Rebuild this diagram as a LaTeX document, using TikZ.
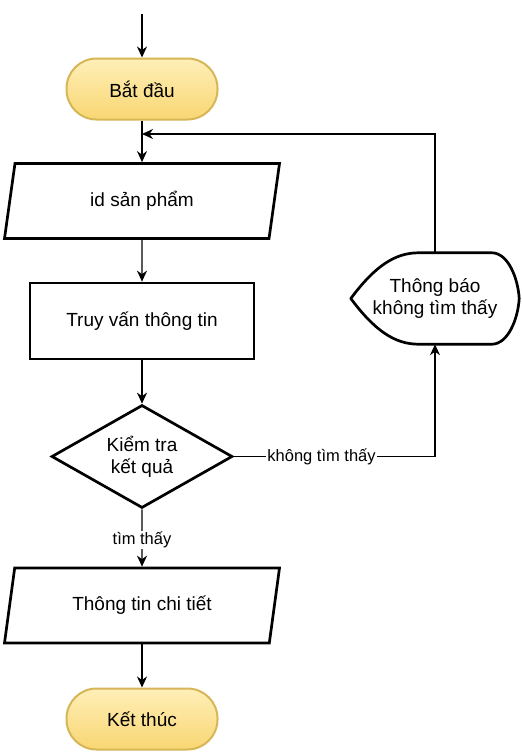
\documentclass[tikz,border=0pt]{standalone}
\usepackage{fontspec}
\setmainfont{Liberation Sans}
\usetikzlibrary{shapes.geometric,arrows.meta,calc}
\definecolor{ovaltop}{HTML}{FFEFB8}
\definecolor{ovalbottom}{HTML}{F8D672}
\definecolor{ovaldraw}{HTML}{D6B656}
\tikzset{
  mainfont/.style={font=\fontsize{19}{22}\selectfont},
  oval/.style={rectangle, rounded corners=30pt, draw=ovaldraw, top color=ovaltop, bottom color=ovalbottom, line width=2pt, minimum width=151pt, minimum height=61pt, mainfont},
  iobox/.style={trapezium, trapezium left angle=68, trapezium right angle=112, trapezium stretches body, draw, line width=2.7pt, minimum width=275pt, minimum height=75pt, mainfont},
  procbox/.style={rectangle, draw, line width=2.7pt, minimum width=224pt, minimum height=76pt, mainfont},
  decision/.style={diamond, draw, line width=2.7pt, inner sep=0pt, aspect=1.76, minimum width=181pt, minimum height=103pt, align=center, mainfont},
  arr/.style={line width=1.4pt, -{Stealth[length=11pt,width=10pt,inset=3.5pt]}},
  edgelabel/.style={fill=white, inner sep=1pt, font=\fontsize{16.5}{18}\selectfont}
}
\begin{document}
\begin{tikzpicture}[x=1pt,y=-1pt]
\useasboundingbox (0,0) rectangle (522,755);
\node[oval] (start) at (142,89) {Bắt đầu};
\node[iobox] (p1) at (142,201) {id sản phẩm};
\node[procbox] (q) at (142,321) {Truy vấn thông tin};
\node[decision] (dia) at (142,456.5) {Kiểm tra\\kết quả};
\node[iobox] (p2) at (142,605.5) {Thông tin chi tiết};
\node[oval] (end) at (142,719) {Kết thúc};
% display shape
\node[minimum width=168pt, minimum height=91pt, align=center, mainfont, inner sep=0pt] (disp) at (435,298.5) {Thông báo\\không tìm thấy};
\draw[line width=2.7pt, line join=round]
  (disp.west) .. controls (375,266) and (395,253) .. ([xshift=-17pt]disp.north)
  -- ([xshift=57pt]disp.north)
  .. controls (508,253) and (518,278) .. (disp.east)
  .. controls (518,319) and (508,344) .. ([xshift=57pt]disp.south)
  -- ([xshift=-17pt]disp.south)
  .. controls (395,344) and (375,331) .. (disp.west) -- cycle;
\coordinate (entry) at (142,14);
\coordinate (loop) at (142,134);
\draw[arr] (entry) -- (start);
\draw[arr] (start) -- (p1);
\draw[arr] (disp.north) |- (loop);
\draw[arr] (p1) -- (q);
\draw[arr] (q) -- (dia);
\draw[arr] (dia.east) -| node[edgelabel, pos=0.218] {không tìm thấy} (disp.south);
\draw[arr] (dia.south) -- node[edgelabel, pos=0.53] {tìm thấy} (p2.north);
\draw[arr] (p2) -- (end);
\end{tikzpicture}
\end{document}
